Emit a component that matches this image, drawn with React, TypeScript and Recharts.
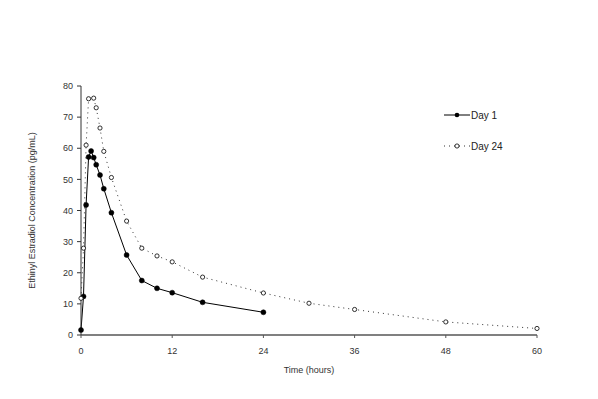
import { LineChart, Line, XAxis, YAxis } from "recharts";

const day1Time = [0, 0.33, 0.67, 1, 1.33, 1.67, 2, 2.5, 3, 4, 6, 8, 10, 12, 16, 24];
const day1Conc = [1.6, 12.4, 41.8, 57.2, 59.1, 57.0, 54.7, 51.4, 47.0, 39.3, 25.7, 17.5, 15.0, 13.6, 10.5, 7.3];

const day24Time = [0, 0.33, 0.67, 1, 1.67, 2, 2.5, 3, 4, 6, 8, 10, 12, 16, 24, 30, 36, 48, 60];
const day24Conc = [11.8, 27.9, 61.0, 75.9, 76.1, 73.0, 66.5, 59.0, 50.6, 36.6, 27.9, 25.4, 23.5, 18.6, 13.5, 10.2, 8.2, 4.2, 2.1];

const xTicks = [0, 12, 24, 36, 48, 60];
const yTicks = [0, 10, 20, 30, 40, 50, 60, 70, 80];

const day1 = day1Time.map((t, i) => ({ t, c: day1Conc[i] }));
const day24 = day24Time.map((t, i) => ({ t, c: day24Conc[i] }));

const FONT = "'Liberation Sans', Arial, sans-serif";
const tickStyle = { fontSize: 9, fill: "#333", fontFamily: FONT };

const YLabel = ({ viewBox }: any) => {
  const cy = viewBox.y + viewBox.height / 2;
  return (
    <text
      x={35}
      y={cy}
      transform={`rotate(-90, 35, ${cy})`}
      textAnchor="middle"
      fontSize={9}
      fill="#333"
      fontFamily={FONT}
    >
      Ethinyl Estradiol Concentration (pg/mL)
    </text>
  );
};

// legend drawn outside the chart so it doesn't shrink the plot area
const LegendBox = () => (
  <div style={{ position: "absolute", left: 443, top: 108, fontFamily: FONT, fontSize: 10, color: "#222" }}>
    <div style={{ display: "flex", alignItems: "center", height: 14 }}>
      <svg width={27} height={10}>
        <line x1={1} y1={5} x2={27} y2={5} stroke="#000" strokeWidth={1} />
        <circle cx={14} cy={5} r={2.3} fill="#000" />
      </svg>
      <span style={{ marginLeft: 1 }}>Day 1</span>
    </div>
    <div style={{ display: "flex", alignItems: "center", height: 14, marginTop: 17 }}>
      <svg width={27} height={10}>
        <line x1={1} y1={5} x2={27} y2={5} stroke="#333" strokeWidth={1} strokeDasharray="1 4" />
        <circle cx={14} cy={5} r={2.1} fill="#fff" stroke="#000" strokeWidth={0.8} />
      </svg>
      <span style={{ marginLeft: 1 }}>Day 24</span>
    </div>
  </div>
);

export default function App() {
  return (
    <div style={{ position: "fixed", left: 0, top: 0, width: 598, height: 399, background: "#fff" }}>
      <LineChart width={598} height={399} margin={{ top: 86, right: 61, bottom: 22, left: 0 }}>
        <XAxis
          type="number"
          dataKey="t"
          domain={[0, 60]}
          ticks={xTicks}
          tick={tickStyle}
          tickSize={3}
          tickMargin={10}
          axisLine={{ stroke: "#808080", strokeWidth: 2 }}
          tickLine={{ stroke: "#555" }}
          height={42}
          label={{ value: "Time (hours)", position: "insideBottom", offset: 4, fontSize: 9, fill: "#333", fontFamily: FONT }}
        />
        <YAxis
          type="number"
          dataKey="c"
          domain={[0, 80]}
          ticks={yTicks}
          tick={tickStyle}
          tickSize={4}
          tickMargin={4}
          width={81}
          axisLine={{ stroke: "#333" }}
          tickLine={{ stroke: "#333" }}
          label={<YLabel />}
        />
        <Line
          data={day1}
          dataKey="c"
          name="Day 1"
          stroke="#000"
          strokeWidth={1}
          dot={{ r: 2.5, fill: "#000", stroke: "#000", strokeWidth: 0.5 }}
          isAnimationActive={false}
        />
        <Line
          data={day24}
          dataKey="c"
          name="Day 24"
          stroke="#333"
          strokeWidth={1}
          strokeDasharray="1 4"
          dot={{ r: 2.1, fill: "#fff", stroke: "#000", strokeWidth: 0.8, strokeDasharray: "0" }}
          isAnimationActive={false}
        />
      </LineChart>
      <LegendBox />
    </div>
  );
}
